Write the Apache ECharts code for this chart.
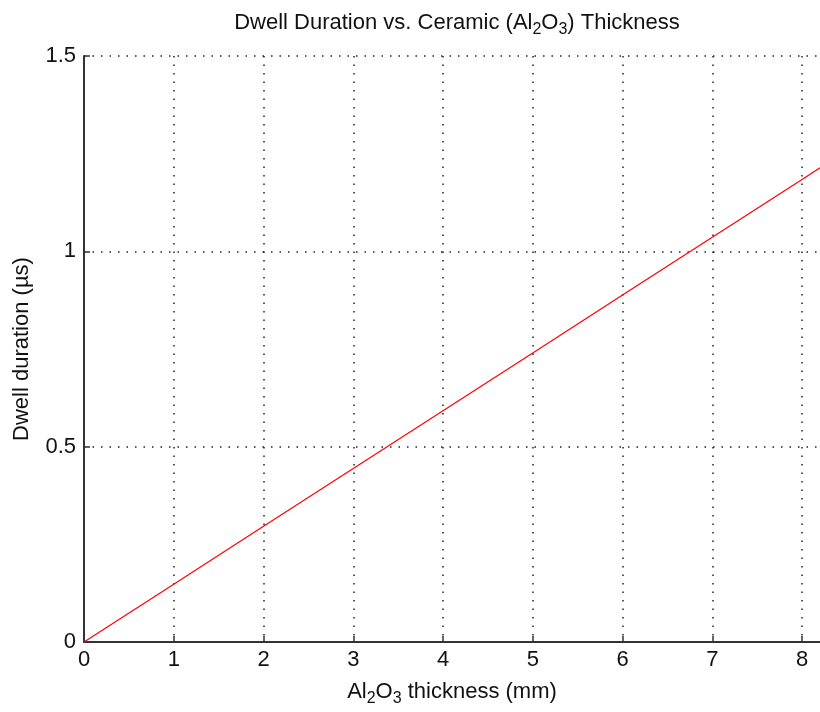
<!DOCTYPE html>
<html><head><meta charset="utf-8">
<script src="https://cdn.jsdelivr.net/npm/echarts@6/dist/echarts.min.js"></script>
<style>html,body{margin:0;padding:0;background:#fff}#c{width:820px;height:712px}</style>
</head><body><div id="c"></div>
<script>
// thickness (mm) and dwell duration (µs)
const thickness = [0, 1, 2, 3, 4, 5, 6, 7, 8, 8.2];
const dwell = [0, 0.148, 0.296, 0.444, 0.592, 0.740, 0.888, 1.036, 1.184, 1.214];
const xTicks = [0, 1, 2, 3, 4, 5, 6, 7, 8];
const yTicks = [0, 0.5, 1, 1.5];

const FONT = 'Liberation Sans';
const FS = 22;
const chart = echarts.init(document.getElementById('c'), null, {renderer: 'canvas'});
const sub = {fontFamily: FONT, fontSize: 16, color: '#111', padding: [15, 0, 0, 0]};
const nrm = {fontFamily: FONT, fontSize: FS, color: '#111'};
const grid = {color: '#222', width: 1.5, type: [1.5, 7]};
chart.setOption({
  animation: false,
  backgroundColor: '#fff',
  title: {
    text: '{n|Dwell Duration vs. Ceramic (Al}{s|2}{n|O}{s|3}{n|) Thickness}',
    left: 452, textAlign: 'center', top: 2,
    textStyle: {fontFamily: FONT, fontSize: FS, fontWeight: 'normal', color: '#111', rich: {n: nrm, s: sub}}
  },
  grid: {left: 84, right: 0, top: 56, bottom: 69, containLabel: false},
  xAxis: {
    type: 'value', min: 0, max: 8.2, interval: 1,
    name: '{n|Al}{s|2}{n|O}{s|3}{n| thickness (mm)}', nameLocation: 'middle', nameGap: 34,
    nameTextStyle: {rich: {n: nrm, s: sub}},
    axisLine: {onZero: false, lineStyle: {color: '#333', width: 2}},
    axisTick: {inside: true, length: 6, customValues: xTicks, lineStyle: {color: '#333', width: 1.5}},
    axisLabel: {fontFamily: FONT, fontSize: FS, color: '#111', margin: 7, customValues: xTicks,
      formatter: v => String(v)},
    splitLine: {show: true, lineStyle: grid}
  },
  yAxis: {
    type: 'value', min: 0, max: 1.5, interval: 0.5,
    name: 'Dwell duration (µs)', nameLocation: 'middle', nameGap: 51,
    nameTextStyle: {fontFamily: FONT, fontSize: FS, color: '#111'},
    axisLine: {onZero: false, lineStyle: {color: '#333', width: 2}},
    axisTick: {inside: true, length: 6, lineStyle: {color: '#333', width: 1.5}},
    axisLabel: {fontFamily: FONT, fontSize: FS, color: '#111', margin: 8,
      formatter: v => yTicks.includes(v) ? String(v) : ''},
    splitLine: {show: true, lineStyle: grid}
  },
  series: [{
    type: 'line', data: thickness.map((x, i) => [x, dwell[i]]),
    showSymbol: false, lineStyle: {color: '#ff0000', width: 1.2}, clip: true
  }]
});
</script></body></html>
